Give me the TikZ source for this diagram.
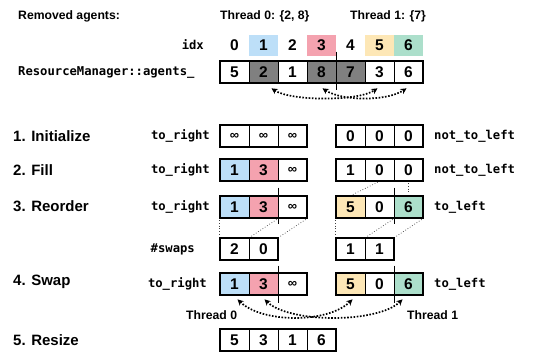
\documentclass[tikz,border=0pt]{standalone}
\usepackage{fontspec}
\setmainfont{Liberation Sans}
\newfontfamily\codefont{DejaVu Sans Mono}
\usetikzlibrary{arrows.meta}
\definecolor{idxblue}{HTML}{BDDFF8}
\definecolor{idxpink}{HTML}{F4A2AF}
\definecolor{idxyellow}{HTML}{FDE7B6}
\definecolor{idxgreen}{HTML}{ACDFCB}
\definecolor{cellgray}{HTML}{808080}
\newcommand{\infsym}{{\fontsize{13}{13}\selectfont ∞}}
\newcommand{\cellrow}[5]{%
  \foreach \v/\c [count=\i from 0] in {#5}
    \node[cell, fill=\c] (#1\i) at (#2+14.5+29*\i, #3) {\v};
  \draw[frame] (#10.north west) rectangle (#1#4.south east);
}
\tikzset{
  cell/.style={draw, line width=0.7pt, minimum width=29pt, minimum height=22pt, inner sep=0pt, font=\fontsize{15.5}{15}\selectfont\bfseries},
  idxcell/.style={minimum width=29pt, minimum height=21pt, inner sep=0pt, font=\fontsize{15.5}{15}\selectfont\bfseries},
  frame/.style={draw, line width=1.8pt},
  divider/.style={line width=1.5pt},
  steplbl/.style={anchor=west, inner sep=0pt, font=\fontsize{15}{15}\selectfont\bfseries},
  headlbl/.style={anchor=west, inner sep=0pt, font=\fontsize{12.2}{12}\selectfont\bfseries},
  codelbl/.style={inner sep=0pt, font=\fontsize{12.2}{12}\selectfont\codefont\bfseries},
  swaparrow/.style={dash pattern=on 1.6pt off 1.6pt, line width=1.7pt, {Stealth[length=6pt,width=6pt]}-{Stealth[length=6pt,width=6pt]}},
  guide/.style={dotted, line width=0.7pt, black!75, shorten <=2pt, shorten >=2pt}
}
\begin{document}
\begin{tikzpicture}[x=1pt, y=-1pt]
  \useasboundingbox (0,0) rectangle (534,352);

  \node[headlbl] (removed) at (18,16) {Removed agents:};
  \node[headlbl] (thrset0) at (220,16) {Thread 0: \{2, 8\}};
  \node[headlbl] (thrset1) at (350,16) {Thread 1: \{7\}};

  \node[codelbl, anchor=east] (idxlbl) at (204,45) {idx};
  \foreach \c [count=\i from 0] in {white,idxblue,white,idxpink,white,idxyellow,idxgreen}
    \node[idxcell, fill=\c] (idx\i) at (234.5+29*\i, 45.5) {\i};

  \node[codelbl, anchor=west] (agentslbl) at (18,72) {ResourceManager::agents\_};
  \cellrow{ag}{220}{72}{6}{5/white,2/cellgray,1/white,8/cellgray,7/cellgray,3/white,6/white}
  \draw[divider] ([yshift=9pt]ag3.north east) -- ([yshift=-7pt]ag3.south east);
  \draw[swaparrow] ([xshift=8pt,yshift=-5pt]ag1.south) .. controls +(20,13) and +(-20,13) .. ([xshift=-2pt,yshift=-5pt]ag5.south);
  \draw[swaparrow] ([xshift=1pt,yshift=-5pt]ag3.south) .. controls +(20,13) and +(-20,13) .. ([xshift=-2pt,yshift=-5pt]ag6.south);

  \node[steplbl] (step1) at (13,136) {1. Initialize};
  \node[codelbl, anchor=east] (right1) at (210,136) {to\_right};
  \cellrow{rA}{220}{136}{2}{\infsym/white,\infsym/white,\infsym/white}
  \cellrow{lA}{336}{136}{2}{0/white,0/white,0/white}
  \node[codelbl, anchor=west] (left1) at (434,136) {not\_to\_left};

  \node[steplbl] (step2) at (13,170) {2. Fill};
  \node[codelbl, anchor=east] (right2) at (210,170) {to\_right};
  \cellrow{rB}{220}{170}{2}{1/idxblue,3/idxpink,\infsym/white}
  \cellrow{lB}{336}{170}{2}{1/white,0/white,0/white}
  \node[codelbl, anchor=west] (left2) at (434,170) {not\_to\_left};

  \node[steplbl] (step3) at (13,206) {3. Reorder};
  \node[codelbl, anchor=east] (right3) at (210,207) {to\_right};
  \cellrow{rC}{220}{207}{2}{1/idxblue,3/idxpink,\infsym/white}
  \cellrow{lC}{336}{207}{2}{5/idxyellow,0/white,6/idxgreen}
  \node[codelbl, anchor=west] (left3) at (434,207) {to\_left};
  \draw[divider] ([yshift=8pt]rC1.north east) -- ([yshift=-6pt]rC1.south east);
  \draw[divider] ([yshift=8pt]lC1.north east) -- ([yshift=-6pt]lC1.south east);
  \draw[guide] (lB1.south) -- (lC0.north);
  \draw[guide] (lB2.south) -- (lC2.north);

  \node[codelbl, anchor=east] (swapslbl) at (195,249) {\#swaps};
  \cellrow{rS}{220}{249}{1}{2/white,0/white}
  \cellrow{lS}{336}{249}{1}{1/white,1/white}
  \draw[guide] (rC0.south west) -- (rS0.north west);
  \draw[guide] (rC1.south east) -- (rS0.north east);
  \draw[guide] (rC2.south east) -- (rS1.north east);
  \draw[guide] (lC0.south west) -- (lS0.north west);
  \draw[guide] (lC1.south east) -- (lS0.north east);
  \draw[guide] (lC2.south east) -- (lS1.north east);

  \node[steplbl] (step4) at (13,282) {4. Swap};
  \node[codelbl, anchor=east] (right4) at (207,284) {to\_right};
  \cellrow{rD}{220}{284}{2}{1/idxblue,3/idxpink,\infsym/white}
  \cellrow{lD}{336}{284}{2}{5/idxyellow,0/white,6/idxgreen}
  \node[codelbl, anchor=west] (left4) at (434,284) {to\_left};
  \draw[divider] ([yshift=7pt]rD1.north east) -- ([yshift=-8pt]rD1.south east);
  \draw[divider] ([yshift=7pt]lD1.north east) -- ([yshift=-8pt]lD1.south east);
  \draw[swaparrow] ([xshift=3pt,yshift=-4pt]rD0.south) .. controls +(25,24) and +(-25,24) .. ([xshift=2pt,yshift=-4pt]lD0.south);
  \draw[swaparrow] ([xshift=1pt,yshift=-4pt]rD1.south) .. controls +(25,24) and +(-25,24) .. ([xshift=-6pt,yshift=-4pt]lD2.south);
  \node[headlbl] (thr0) at (186,315) {Thread 0};
  \node[headlbl] (thr1) at (407,315) {Thread 1};

  \node[steplbl] (step5) at (13,340) {5. Resize};
  \cellrow{rz}{220}{340}{3}{5/white,3/white,1/white,6/white}
\end{tikzpicture}
\end{document}
